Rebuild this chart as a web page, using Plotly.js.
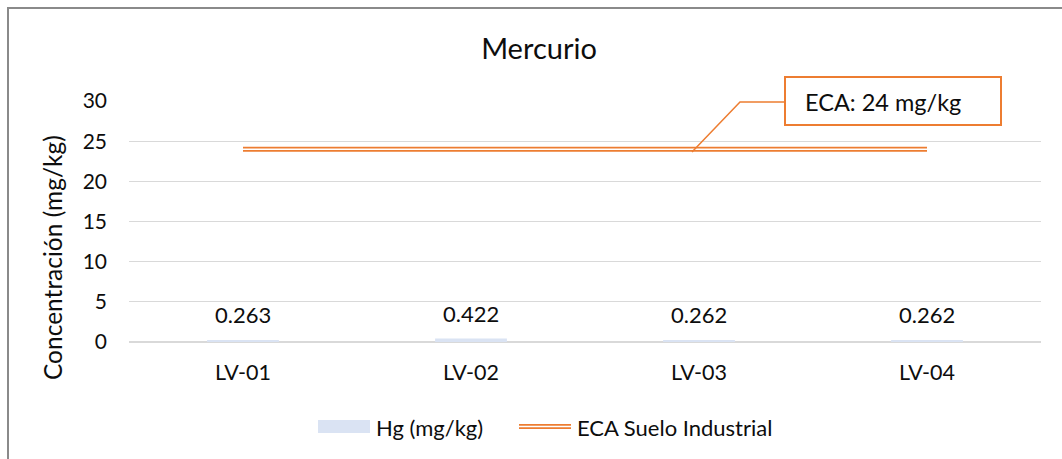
<!DOCTYPE html>
<html>
<head>
<meta charset="utf-8">
<script src="https://cdn.plot.ly/plotly-3.0.1.min.js"></script>
<style>
  html, body { margin: 0; padding: 0; background: #fff; }
  #chart { width: 1062px; height: 459px; }
</style>
</head>
<body>
<div id="chart"></div>
<script>
// ---- Data ----
const categories = ['LV-01', 'LV-02', 'LV-03', 'LV-04'];
const hgValues = [0.263, 0.422, 0.262, 0.262];
const ecaValues = [24, 24, 24, 24];
const yTickValues = [0, 5, 10, 15, 20, 25, 30];
const seriesNames = ['Hg (mg/kg)', 'ECA Suelo Industrial'];
const calloutText = 'ECA: 24 mg/kg';
const chartTitle = 'Mercurio';
const yTitle = 'Concentración (mg/kg)';

// ---- Layout geometry (pixels) ----
const W = 1062, H = 459;
const M = { l: 129, r: 21, t: 101, b: 117 };
const PW = W - M.l - M.r, PH = H - M.t - M.b;
const px = x => (x - M.l) / PW;           // pixel x -> paper x
const py = y => (H - M.b - y) / PH;       // pixel y -> paper y

const FONT = 'Lato, "Open Sans", sans-serif';
const TXT = '#0d0d0d';
const ORANGE = '#ED7D31';
const BAR = '#DAE3F3';

const traces = [
  {
    type: 'bar', x: categories, y: hgValues, name: seriesNames[0],
    marker: { color: BAR }, showlegend: false, hoverinfo: 'x+y'
  },
  {
    type: 'scatter', mode: 'lines', x: categories, y: ecaValues, name: seriesNames[1],
    line: { color: ORANGE, width: 5 }, showlegend: false, hoverinfo: 'x+y'
  },
  {
    type: 'scatter', mode: 'lines', x: categories, y: ecaValues, name: seriesNames[1],
    line: { color: '#ffffff', width: 1.4 }, showlegend: false, hoverinfo: 'skip'
  }
];

const annotations = [];
// data labels
categories.forEach((c, i) => {
  annotations.push({
    x: c, y: hgValues[i], xref: 'x', yref: 'y', text: hgValues[i].toFixed(3),
    showarrow: false, yanchor: 'bottom', yshift: 10,
    font: { family: FONT, size: 22, color: TXT }
  });
});
// y axis title
annotations.push({
  xref: 'paper', yref: 'paper', x: px(52), y: py(258), text: yTitle,
  textangle: -90, showarrow: false, xanchor: 'center', yanchor: 'middle',
  font: { family: FONT, size: 24.5, color: TXT }
});
// callout text
annotations.push({
  xref: 'paper', yref: 'paper', x: px(803), y: py(102), text: calloutText,
  showarrow: false, xanchor: 'left', yanchor: 'middle',
  font: { family: FONT, size: 23.5, color: TXT }
});
// legend texts
annotations.push({
  xref: 'paper', yref: 'paper', x: px(374), y: py(427), text: seriesNames[0],
  showarrow: false, xanchor: 'left', yanchor: 'middle',
  font: { family: FONT, size: 22, color: TXT }
});
annotations.push({
  xref: 'paper', yref: 'paper', x: px(575), y: py(427), text: seriesNames[1],
  showarrow: false, xanchor: 'left', yanchor: 'middle',
  font: { family: FONT, size: 22, color: TXT }
});

const shapes = [
  // outer chart border (left & top visible)
  { type: 'line', xref: 'paper', yref: 'paper', x0: px(8), x1: px(8), y0: py(8), y1: py(470), line: { color: '#8a8a8a', width: 2 } },
  { type: 'line', xref: 'paper', yref: 'paper', x0: px(7), x1: px(1070), y0: py(8), y1: py(8), line: { color: '#8a8a8a', width: 2 } },
  // callout leader line
  { type: 'path', xref: 'paper', yref: 'paper',
    path: `M${px(692)},${py(152)} L${px(740)},${py(102)} L${px(785)},${py(102)}`,
    line: { color: ORANGE, width: 1.5 }, layer: 'above' },
  // callout box
  { type: 'rect', xref: 'paper', yref: 'paper', x0: px(785), x1: px(1001), y0: py(125), y1: py(77),
    line: { color: ORANGE, width: 2 }, fillcolor: '#ffffff', layer: 'above' },
  // legend swatches
  { type: 'rect', xref: 'paper', yref: 'paper', x0: px(318), x1: px(370), y0: py(433), y1: py(420),
    line: { width: 0 }, fillcolor: BAR },
  { type: 'line', xref: 'paper', yref: 'paper', x0: px(519), x1: px(571), y0: py(426.5), y1: py(426.5),
    line: { color: ORANGE, width: 5 } },
  { type: 'line', xref: 'paper', yref: 'paper', x0: px(519), x1: px(571), y0: py(426.5), y1: py(426.5),
    line: { color: '#ffffff', width: 1.4 } }
];

const layout = {
  width: W, height: H,
  margin: M,
  paper_bgcolor: '#ffffff', plot_bgcolor: '#ffffff',
  font: { family: FONT, size: 21, color: TXT },
  title: {
    text: chartTitle, xref: 'paper', x: px(539), xanchor: 'center',
    yref: 'container', y: 1 - 49 / H, yanchor: 'middle',
    font: { family: FONT, size: 29, color: TXT }
  },
  bargap: 0.685,
  showlegend: false,
  xaxis: {
    type: 'category', categoryorder: 'array', categoryarray: categories,
    showgrid: false, zeroline: false, showline: false, ticks: '',
    ticklabelstandoff: 15,
    tickfont: { family: FONT, size: 21.5, color: TXT }
  },
  yaxis: {
    range: [0, 30], tickvals: yTickValues, ticktext: yTickValues.map(String),
    showgrid: true, gridcolor: '#d9d9d9', gridwidth: 1.3,
    zeroline: true, zerolinecolor: '#d9d9d9', zerolinewidth: 1.3,
    showline: false, ticks: '', ticklabelstandoff: 21,
    tickfont: { family: FONT, size: 21, color: TXT }
  },
  annotations: annotations,
  shapes: shapes
};

Plotly.newPlot('chart', traces, layout, { displayModeBar: false, staticPlot: true });
</script>
</body>
</html>
